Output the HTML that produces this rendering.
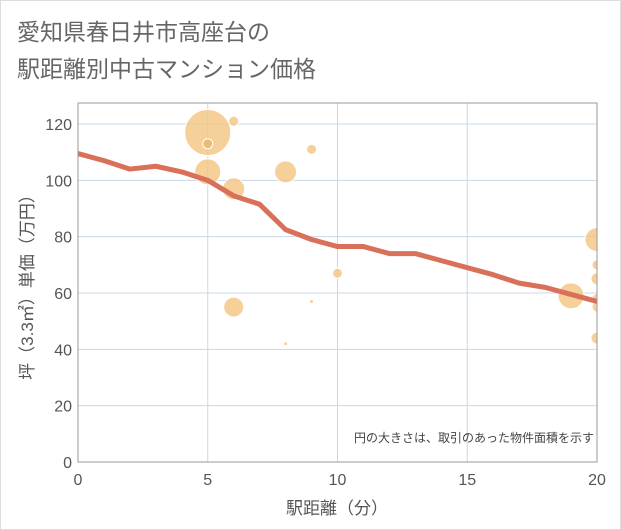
<!DOCTYPE html>
<html><head><meta charset="utf-8"><style>
body{margin:0;background:#fff}
svg{display:block;font-family:"Liberation Sans","Noto Sans CJK JP",sans-serif}
</style></head><body>
<svg width="621" height="530" viewBox="0 0 621 530">
<rect x="0.5" y="0.5" width="620" height="529" fill="#fff" stroke="#ddd"/>
<text x="17" y="40" font-size="23" fill="#666">愛知県春日井市高座台の</text>
<text x="17" y="77" font-size="23" fill="#666">駅距離別中古マンション価格</text>
<g id="grid"></g>
<defs><clipPath id="pc"><rect x="78" y="103" width="519" height="359"/></clipPath></defs>
<g id="bubbles" clip-path="url(#pc)"></g>
<g id="line"></g>
<rect x="78" y="103" width="519" height="359" fill="none" stroke="#999"/>
<g id="ticks"></g>
<text x="594" y="442" font-size="12" fill="#444" text-anchor="end">円の大きさは、取引のあった物件面積を示す</text>
<text x="337" y="514" font-size="17" fill="#555" text-anchor="middle">駅距離（分）</text>
<text transform="translate(33,283) rotate(-90)" font-size="17" fill="#555" text-anchor="middle">坪（3.3㎡）単価（万円）</text>
</svg>
<script>
const xTicks=[0,5,10,15,20];
const yTicks=[0,20,40,60,80,100,120];
const lineX=[0,1,2,3,4,5,6,7,8,9,10,11,12,13,14,15,16,17,18,19,20];
const lineY=[109.5,107,104,105,103,100,94.5,91.5,82.5,79,76.5,76.5,74,74,71.5,69,66.5,63.5,62,59.5,57];
const bubX=[5,6,5,6,8,9,6,8,9,10,19,20,20,20,20,20,20,5];
const bubY=[117,121,103,97,103,111,55,42,57,67,59,79,70,65,58,55,44,113];
const bubR=[23,5,13,11,11,5,10,2,2,5,13,12,5,6,5,5,6,5];
const ns="http://www.w3.org/2000/svg";
const sx=v=>78+v*(519/20);
const sy=v=>462-v*(338/120);
function mk(t,a,p){const e=document.createElementNS(ns,t);for(const k in a)e.setAttribute(k,a[k]);document.getElementById(p).appendChild(e);return e;}
xTicks.forEach(t=>{
 const g=mk('line',{x1:sx(t),x2:sx(t),y1:103,y2:462,stroke:'#c8d8e8','stroke-width':1},'grid');
 
 
 const l=mk('text',{x:sx(t),y:485,'font-size':16,fill:'#555','text-anchor':'middle'},'ticks');
 l.textContent=t;
 
 
});
yTicks.forEach(t=>{
 const g=mk('line',{x1:78,x2:597,y1:sy(t),y2:sy(t),stroke:'#c8d8e8','stroke-width':1},'grid');
 
 
 const l=mk('text',{x:72,y:sy(t)+6,'font-size':16,fill:'#555','text-anchor':'end'},'ticks');
 l.textContent=t;
 
 
});
bubX.forEach((x,i)=>{
 const c=mk('circle',{cx:sx(x),cy:sy(bubY[i]),r:bubR[i],fill:i==17?'#ebb56a':'#f2c47f','fill-opacity':0.8,stroke:'#fff','stroke-width':1},'bubbles');
 
 
});
const p=mk('polyline',{points:lineX.map((x,i)=>sx(x)+','+sy(lineY[i])).join(' '),fill:'none',stroke:'#d8705a','stroke-width':5,'stroke-linejoin':'round'},'line');


</script>
</body></html>
